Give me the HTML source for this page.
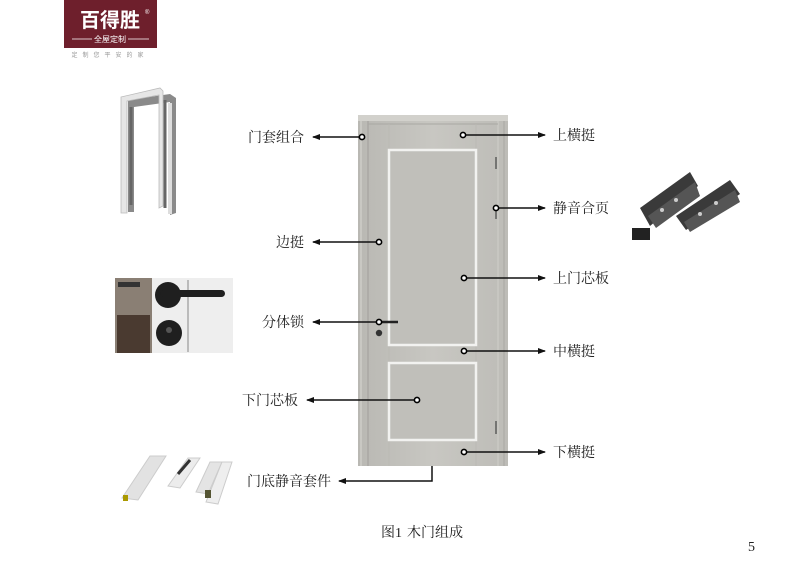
<!DOCTYPE html>
<html><head><meta charset="utf-8"><style>
html,body{margin:0;padding:0;background:#fff;width:800px;height:566px;overflow:hidden}
svg{display:block}
.t{font-family:"Liberation Serif","Noto Serif CJK SC",serif;font-size:14px;fill:#222}
</style></head><body>
<svg width="800" height="566" viewBox="0 0 800 566" xmlns="http://www.w3.org/2000/svg">
<defs>
<marker id="a" markerWidth="8" markerHeight="6" refX="7" refY="3" orient="auto" markerUnits="userSpaceOnUse">
<path d="M0,0 L8,3 L0,6 z" fill="#111"/></marker>
<linearGradient id="dg" x1="0" x2="1"><stop offset="0" stop-color="#b9b8b3"/><stop offset="0.5" stop-color="#c8c7c2"/><stop offset="1" stop-color="#bdbcb7"/></linearGradient>
</defs>
<!-- logo -->
<rect x="64" y="0" width="93" height="48" fill="#6e1f2c"/>
<text x="110" y="27" text-anchor="middle" font-family="Noto Sans CJK SC,sans-serif" font-size="20" font-weight="bold" fill="#fff">百得胜</text>
<text x="145" y="14" font-size="6" fill="#fff" font-family="Liberation Sans">®</text>
<line x1="72" y1="39" x2="92" y2="39" stroke="#fff" stroke-width="0.8"/>
<line x1="128" y1="39" x2="149" y2="39" stroke="#fff" stroke-width="0.8"/>
<text x="110" y="42" text-anchor="middle" font-family="Noto Sans CJK SC,sans-serif" font-size="8" fill="#fff">全屋定制</text>
<text x="110" y="57" text-anchor="middle" font-family="Noto Sans CJK SC,sans-serif" font-size="6" fill="#999" letter-spacing="5">定制您平安的家</text>

<!-- door frame image -->
<path d="M128,100 L170,94 L176,98 V213 L170,215 V102 L134,107 V212 L128,212 Z" fill="#8a8a8a"/>
<path d="M121,97 L160,88 L163,91 V206 L159,208 V95 L127,101 V213 L121,213 Z" fill="#e6e6e6" stroke="#bbb" stroke-width="0.8"/>
<path d="M131,107 V205 M165,100 V208" stroke="#666" stroke-width="3"/>
<path d="M170,103 V214" stroke="#ddd" stroke-width="4"/>
<!-- lock image -->
<rect x="115" y="278" width="118" height="75" fill="#eeeeee"/>
<rect x="115" y="278" width="37" height="75" fill="#8a7f74"/>
<rect x="117" y="315" width="33" height="38" fill="#4a3a30"/>
<rect x="118" y="282" width="22" height="5" fill="#333"/>
<line x1="188" y1="280" x2="188" y2="352" stroke="#bbb" stroke-width="2"/>
<circle cx="168" cy="295" r="13" fill="#1f1f1f"/>
<rect x="160" y="290" width="65" height="7" rx="3.5" fill="#1f1f1f"/>
<circle cx="169" cy="333" r="13" fill="#1f1f1f"/>
<circle cx="169" cy="330" r="3" fill="#555"/>
<!-- seal strips -->
<g>
<polygon points="122,498 150,456 166,456 138,500" fill="#e2e2e2" stroke="#ccc"/>
<polygon points="168,486 188,458 200,458 180,488" fill="#ececec" stroke="#ccc"/>
<path d="M178,474 L190,460" stroke="#333" stroke-width="3"/>
<polygon points="196,492 210,462 222,462 208,494" fill="#e4e4e4" stroke="#ccc"/>
<polygon points="206,502 222,462 232,462 218,504" fill="#eee" stroke="#ccc"/>
<rect x="205" y="490" width="6" height="8" fill="#553"/>
<rect x="123" y="495" width="5" height="6" fill="#a90"/>
</g>
<!-- hinges -->
<g>
<polygon points="640,208 690,172 698,186 650,226" fill="#3a3a3a"/>
<polygon points="648,216 695,182 700,196 656,228" fill="#555"/>
<polygon points="676,216 730,180 740,194 686,230" fill="#3a3a3a"/>
<polygon points="684,222 735,190 740,202 690,232" fill="#555"/>
<g fill="#ccc"><circle cx="662" cy="210" r="2"/><circle cx="676" cy="200" r="2"/><circle cx="700" cy="214" r="2"/><circle cx="716" cy="203" r="2"/></g>
<rect x="632" y="228" width="18" height="12" fill="#222"/>
</g>

<!-- door -->
<rect x="358" y="115" width="150" height="351" fill="url(#dg)"/>
<rect x="358" y="115" width="150" height="6" fill="#d2d1cc"/>
<line x1="368" y1="121" x2="368" y2="466" stroke="#a9a8a3" stroke-width="1.5"/>
<line x1="361" y1="121" x2="361" y2="466" stroke="#d8d7d2" stroke-width="1"/>
<line x1="498" y1="121" x2="498" y2="466" stroke="#d0cfca" stroke-width="1"/>
<line x1="504" y1="121" x2="504" y2="466" stroke="#a9a8a3" stroke-width="1"/>
<line x1="368" y1="124" x2="498" y2="124" stroke="#a9a8a3"/>
<line x1="389" y1="124" x2="389" y2="466" stroke="#b9b8b3" stroke-width="0.8"/>
<line x1="476" y1="124" x2="476" y2="466" stroke="#b9b8b3" stroke-width="0.8"/>
<rect x="389" y="150" width="87" height="195" fill="#c0bfba" stroke="#f2f2f0" stroke-width="2.5"/>
<rect x="389" y="363" width="87" height="77" fill="#c0bfba" stroke="#f2f2f0" stroke-width="2.5"/>
<line x1="496" y1="157" x2="496" y2="169" stroke="#444" stroke-width="1.2"/>
<line x1="496" y1="205" x2="496" y2="219" stroke="#444" stroke-width="1.2"/>
<line x1="496" y1="421" x2="496" y2="434" stroke="#444" stroke-width="1.2"/>
<line x1="379" y1="322" x2="398" y2="322" stroke="#222" stroke-width="2.5"/>
<circle cx="379" cy="333" r="3.2" fill="#333"/>

<!-- connectors -->
<g stroke="#111" stroke-width="1.5" fill="none" marker-end="url(#a)">
<line x1="362" y1="137" x2="313" y2="137"/>
<line x1="463" y1="135" x2="545" y2="135"/>
<line x1="496" y1="208" x2="545" y2="208"/>
<line x1="379" y1="242" x2="313" y2="242"/>
<line x1="464" y1="278" x2="545" y2="278"/>
<line x1="379" y1="322" x2="313" y2="322"/>
<line x1="464" y1="351" x2="545" y2="351"/>
<line x1="417" y1="400" x2="307" y2="400"/>
<line x1="464" y1="452" x2="545" y2="452"/>
<polyline points="432,466 432,481 339,481"/>
</g>
<g fill="#fff" stroke="#000" stroke-width="1.6">
<circle cx="362" cy="137" r="2.6"/><circle cx="463" cy="135" r="2.6"/>
<circle cx="496" cy="208" r="2.6"/><circle cx="379" cy="242" r="2.6"/>
<circle cx="464" cy="278" r="2.6"/><circle cx="379" cy="322" r="2.6"/>
<circle cx="464" cy="351" r="2.6"/><circle cx="417" cy="400" r="2.6"/>
<circle cx="464" cy="452" r="2.6"/>
</g>

<!-- labels -->
<text class="t" x="304" y="142" text-anchor="end">门套组合</text>
<text class="t" x="553" y="140">上横挺</text>
<text class="t" x="553" y="213">静音合页</text>
<text class="t" x="304" y="247" text-anchor="end">边挺</text>
<text class="t" x="553" y="283">上门芯板</text>
<text class="t" x="304" y="327" text-anchor="end">分体锁</text>
<text class="t" x="553" y="356">中横挺</text>
<text class="t" x="298" y="405" text-anchor="end">下门芯板</text>
<text class="t" x="553" y="457">下横挺</text>
<text class="t" x="331" y="486" text-anchor="end">门底静音套件</text>
<text class="t" x="381" y="537">图1</text>
<text class="t" x="407" y="537">木门组成</text>
<text class="t" x="748" y="551">5</text>
</svg>
</body></html>
